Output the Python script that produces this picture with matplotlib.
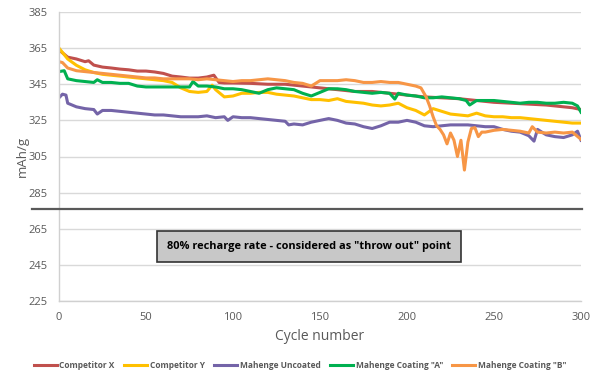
import matplotlib
matplotlib.use("Agg")
import matplotlib.pyplot as plt

plt.rcParams['font.family'] = ['Open Sans', 'DejaVu Sans']

# ---- data ----
x_red = [0, 5, 10, 15, 17, 20, 25, 30, 35, 40, 45, 50, 55, 60, 65, 70, 75, 80, 85, 89, 92, 95, 100, 110,
         120, 130, 140, 150, 160, 170, 180, 190, 200, 210, 220, 230, 240, 250, 260, 270, 280, 290, 295, 300]
y_red = [364, 360, 359, 357.5, 358, 355.6, 354.5, 354, 353.4, 353, 352.3, 352.3, 351.8, 351, 349.5, 349, 348.4,
         348.4, 349, 350, 346, 345.7, 345.7, 345.5, 345, 345, 344, 343, 342, 341, 341, 340, 339, 338, 337.5,
         337, 336, 335, 334.5, 334, 333.5, 332.5, 332, 331]

x_yel = [0, 5, 10, 15, 20, 25, 30, 35, 40, 45, 50, 55, 60, 65, 70, 75, 80, 85, 88, 90, 95, 100, 105, 110,
         115, 120, 125, 130, 135, 140, 145, 150, 155, 160, 165, 170, 175, 180, 185, 190, 195, 200, 205, 210,
         215, 220, 225, 230, 235, 240, 245, 250, 255, 260, 265, 270, 275, 280, 285, 290, 295, 300]
y_yel = [365, 359, 355.5, 353, 351.5, 350.5, 350, 349.5, 349, 348.5, 348, 347.5, 347, 346, 343, 341, 340.5,
         341, 344.5, 342, 338, 338.5, 340, 340, 340.5, 340.5, 339.5, 339, 338.5, 337.5, 336.5, 336.5, 336,
         337, 335.5, 335, 334.5, 333.5, 333, 333.5, 334.5, 332, 330.5, 328, 331.5, 330, 328.5, 328, 327.5,
         329, 327.5, 327, 327, 326.5, 326.5, 326, 325.5, 325, 324.5, 324, 323.5, 323.5]

x_pur = [0, 2, 4, 5, 10, 15, 20, 22, 25, 30, 35, 40, 45, 50, 55, 60, 65, 70, 75, 80, 85, 90, 95, 97, 100,
         105, 110, 115, 120, 125, 130, 132, 135, 140, 145, 150, 155, 160, 165, 170, 175, 180, 185, 190, 195,
         200, 205, 210, 215, 220, 225, 230, 235, 240, 245, 250, 255, 260, 265, 270, 273, 275, 280, 285, 290,
         295, 298, 300]
y_pur = [337.5, 339.5, 339, 334.5, 332.5, 331.5, 331, 328.5, 330.5, 330.5, 330, 329.5, 329, 328.5, 328, 328,
         327.5, 327, 327, 327, 327.5, 326.5, 327, 325, 327, 326.5, 326.5, 326, 325.5, 325, 324.5, 322.5, 323,
         322.5, 324, 325, 326, 325, 323.5, 323, 321.5, 320.5, 322, 324, 324, 325, 324, 322, 321.5, 322,
         322.5, 322.5, 322.5, 322, 321.5, 321.5, 320, 319, 318.5, 316.5, 313.5, 320, 317, 316, 315.5, 317,
         319, 314]

x_grn = [0, 3, 5, 10, 15, 20, 22, 25, 30, 35, 40, 45, 50, 55, 60, 65, 70, 75, 77, 80, 85, 90, 95, 100, 105,
         110, 115, 120, 125, 130, 135, 140, 145, 150, 155, 160, 165, 170, 175, 180, 185, 190, 193, 195, 200,
         205, 210, 215, 220, 225, 230, 234, 236, 240, 245, 250, 255, 260, 265, 270, 275, 280, 285, 290, 295,
         298, 300]
y_grn = [352, 352.5, 348, 347, 346.5, 346, 347.5, 346, 346, 345.5, 345.5, 344, 343.5, 343.5, 343.5, 343.5,
         343.5, 343.5, 346.5, 344, 344, 343.5, 342.5, 342.5, 342, 341, 340, 342, 343, 342.5, 342, 340,
         338.5, 340.5, 342.5, 342.5, 342, 341, 340.5, 340, 340.5, 340, 336.8, 340, 339, 338.5, 337.5, 337.5,
         338, 337.5, 337, 336, 333.5, 336, 336, 336, 335.5, 335, 334.5, 335, 335, 334.5, 334.5, 335, 334.5,
         333, 329.5]

x_org = [0, 2, 5, 10, 15, 20, 25, 30, 35, 40, 45, 50, 55, 60, 65, 70, 75, 80, 85, 90, 95, 100, 105, 110,
         115, 120, 125, 130, 135, 140, 145, 150, 155, 160, 165, 170, 175, 180, 185, 190, 195, 200, 205, 208,
         211, 213, 215, 217, 219, 221, 223, 225, 227, 229, 231, 233, 235, 237, 239, 241, 243, 245, 250, 255,
         260, 265, 270, 272, 275, 280, 285, 290, 295, 300]
y_org = [357.5, 357, 354, 352.5, 352, 351.5, 351, 350.5, 350, 349.5, 349, 348.5, 348.5, 348, 348, 348, 348,
         347.5, 348, 347.5, 347, 346.5, 347, 347, 347.5, 348, 347.5, 347, 346, 345.5, 344, 347, 347, 347,
         347.5, 347, 346, 346, 346.5, 346, 346, 345, 344, 343, 338, 333, 327, 322, 320, 317, 312, 318, 314,
         305, 314, 297.5, 313, 320.5, 321, 316, 318.5, 318.5, 319.5, 320, 319.5, 319, 318, 321.5, 318.5, 318,
         318.5, 318, 318.5, 314.5]

series = [
    ("Competitor X", x_red, y_red, "#C0504D"),
    ("Competitor Y", x_yel, y_yel, "#FFC000"),
    ("Mahenge Uncoated", x_pur, y_pur, "#7464A8"),
    ('Mahenge Coating "A"', x_grn, y_grn, "#00B050"),
    ('Mahenge Coating "B"', x_org, y_org, "#F79646"),
]

y_ticks = [225, 245, 265, 285, 305, 325, 345, 365, 385]
x_ticks = [0, 50, 100, 150, 200, 250, 300]
throw_out_level = 276
note_text = '80% recharge rate - considered as "throw out" point'

# ---- figure ----
fig = plt.figure(figsize=(6.0, 3.79), dpi=100)
ax = fig.add_axes([59 / 600, 1 - 301 / 379, 522 / 600, 289 / 379])

for name, xs, ys, col in series:
    ax.plot(xs, ys, color=col, lw=2.2, label=name, solid_joinstyle='round')

ax.set_xlim(0, 300)
ax.set_ylim(225, 385)
ax.set_yticks(y_ticks)
ax.set_xticks(x_ticks)
ax.grid(axis='y', color='#d9d9d9', lw=1.0)
ax.set_axisbelow(True)
for s in ['top', 'right']:
    ax.spines[s].set_visible(False)
for s in ['left', 'bottom']:
    ax.spines[s].set_color('#d0d0d0')
    ax.spines[s].set_linewidth(1.0)
ax.tick_params(length=0, labelsize=8, labelcolor='#595959', pad=8)
ax.tick_params(axis='x', pad=8)

ax.set_xlabel("Cycle number", fontsize=10, color='#595959', labelpad=4)
ax.set_ylabel("mAh/g", fontsize=9.5, color='#595959', labelpad=0)

# throw-out line
trans = ax.get_yaxis_transform()
ax.plot([-0.052, 1.002], [throw_out_level, throw_out_level], transform=trans,
        color='#595959', lw=1.6, clip_on=False, zorder=3)

ax.text(143.5, 255, note_text, ha='center', va='center', fontsize=7.9,
        fontweight='bold', color='black',
        bbox=dict(boxstyle='square,pad=0.9', fc='#c8c8c8', ec='#333333', lw=1.2))

leg = fig.legend(loc='center', bbox_to_anchor=(0.5, 1 - 365 / 379), ncol=5, frameon=False,
                 handlelength=2.8, columnspacing=1.1, handletextpad=0.3,
                 prop={'weight': 'bold', 'size': 6})
for t in leg.get_texts():
    t.set_color('#595959')

fig.savefig("out.png", dpi=100)
